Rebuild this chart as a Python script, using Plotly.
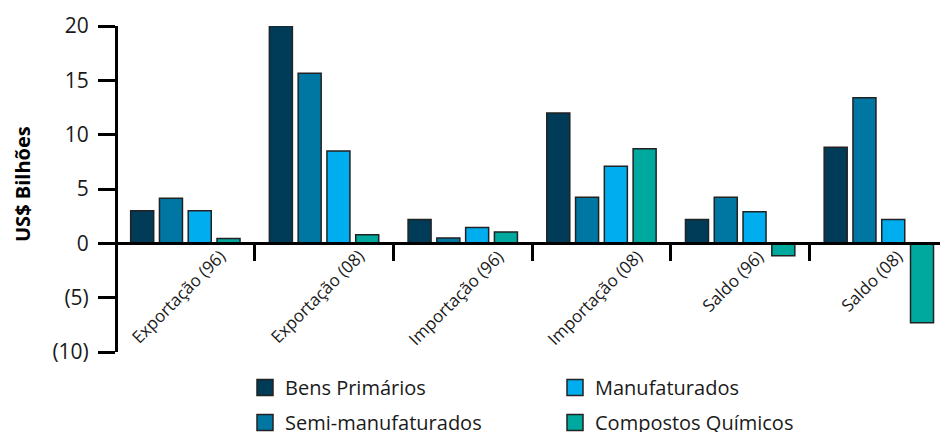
import plotly.graph_objects as go

# Trade balance by product class, US$ billions
categories = ["Exportação (96)", "Exportação (08)", "Importação (96)",
              "Importação (08)", "Saldo (96)", "Saldo (08)"]
series_names = ["Bens Primários", "Semi-manufaturados", "Manufaturados", "Compostos Químicos"]
bens_primarios = [3.0, 20.0, 2.2, 12.0, 2.2, 8.85]
semi_manufaturados = [4.15, 15.65, 0.5, 4.25, 4.25, 13.4]
manufaturados = [3.0, 8.5, 1.45, 7.1, 2.9, 2.2]
compostos_quimicos = [0.45, 0.8, 1.05, 8.7, -1.15, -7.3]
series_values = [bens_primarios, semi_manufaturados, manufaturados, compostos_quimicos]

y_tick_values = [-10, -5, 0, 5, 10, 15, 20]
y_tick_labels = ["(10)", "(5)", "0", "5", "10", "15", "20"]
y_title = "US$ Bilhões"

colors = ["#003B57", "#0076A3", "#00AEEF", "#00A99D"]
outline = "#222222"
font_family = "Open Sans, Noto Sans, sans-serif"
text_color = "#1a1a1a"

W, H = 940, 432
M_L, M_R, M_T, M_B = 116, 0, 26, 80
plot_w, plot_h = W - M_L - M_R, H - M_T - M_B
category_px = 138.7  # width of one category slot in pixels

fig = go.Figure()

for name, vals, col in zip(series_names, series_values, colors):
    fig.add_trace(go.Bar(
        x=categories, y=vals, name=name,
        marker=dict(color=col, line=dict(color=outline, width=1.5)),
        showlegend=False,
    ))

# Legend entries: two columns, left = first two series, right = last two
legend_of = ["legend", "legend", "legend2", "legend2"]
for name, col, lg in zip(series_names, colors, legend_of):
    fig.add_trace(go.Scatter(
        x=[None], y=[None], mode="markers", name=name,
        legend=lg, legendgroup=name,
        marker=dict(symbol="square", size=16, color=col,
                    line=dict(color=outline, width=1.5)),
    ))

# Rotated category labels under the zero line
for cat in categories:
    fig.add_annotation(
        x=cat, y=0, xref="x", yref="y",
        text=cat, showarrow=False, textangle=-45,
        xanchor="center", yanchor="top", xshift=-7, yshift=1,
        font=dict(family=font_family, size=17, color=text_color),
    )

# Vertical axis title, placed in the left margin
fig.add_annotation(
    x=(22 - M_L) / plot_w, y=(H - M_B - 184) / plot_h, xref="paper", yref="paper",
    text=f"<b>{y_title}</b>", showarrow=False, textangle=-90,
    xanchor="center", yanchor="middle",
    font=dict(family=font_family, size=20, color="black"),
)

legend_common = dict(
    orientation="v", xref="container", yref="container",
    xanchor="left", yanchor="top", y=(H - 368) / H,
    bgcolor="rgba(0,0,0,0)", borderwidth=0, tracegroupgap=6,
    font=dict(family=font_family, size=20, color=text_color),
)

fig.update_layout(
    width=W, height=H,
    margin=dict(l=M_L, r=M_R, t=M_T, b=M_B, pad=0, autoexpand=False),
    paper_bgcolor="white", plot_bgcolor="white",
    barmode="group", bargap=0.17, bargroupgap=0.2,
    font=dict(family=font_family, color=text_color),
    xaxis=dict(
        type="category", categoryorder="array", categoryarray=categories,
        range=[-0.5, -0.5 + plot_w / category_px], anchor="free", position=1 / 3,
        showline=True, linecolor="black", linewidth=3,
        ticks="outside", tickson="boundaries", ticklen=16, tickwidth=3,
        tickcolor="black", showticklabels=False,
        showgrid=False, zeroline=False,
    ),
    yaxis=dict(
        range=[-10, 20], tickvals=y_tick_values, ticktext=y_tick_labels,
        anchor="free", position=0,
        showline=True, linecolor="black", linewidth=3,
        ticks="outside", ticklen=17, tickwidth=3, tickcolor="black",
        ticklabelstandoff=5,
        tickfont=dict(family=font_family, size=21, color=text_color),
        showgrid=False, zeroline=False,
    ),
    legend=dict(x=245 / W, **legend_common),
    legend2=dict(x=555 / W, **legend_common),
)

fig.write_html("out.html")
